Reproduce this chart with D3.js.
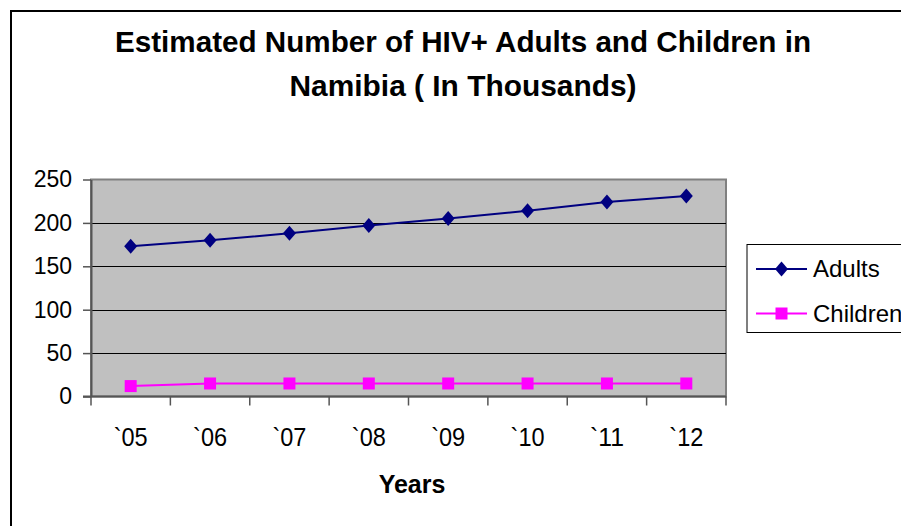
<!DOCTYPE html>
<html>
<head>
<meta charset="utf-8">
<script src="https://cdn.jsdelivr.net/npm/d3@7"></script>
<style>
  html, body { margin: 0; padding: 0; background: #fff; }
  svg { display: block; font-family: "Liberation Sans", Arial, Helvetica, sans-serif; }
</style>
</head>
<body>
<svg id="chart" width="901" height="526"></svg>
<script>
// Estimated HIV+ population in Namibia, thousands
const years = ["`05", "`06", "`07", "`08", "`09", "`10", "`11", "`12"];
const adults = [173, 180, 188, 197, 205, 214, 224, 231];
const children = [12, 15, 15, 15, 15, 15, 15, 15];
const yTicks = [0, 50, 100, 150, 200, 250];
const titleLines = ["Estimated Number of HIV+ Adults and Children in", "Namibia ( In Thousands)"];
const seriesNames = ["Adults", "Children"];

const svg = d3.select("#chart");
const W = 901, H = 526;

svg.append("rect").attr("width", W).attr("height", H).attr("fill", "#fff");

// outer chart frame (runs off the right and bottom edges)
svg.append("rect")
  .attr("x", 11).attr("y", 11).attr("width", 910).attr("height", 540)
  .attr("fill", "none").attr("stroke", "#000").attr("stroke-width", 2);

// title
const titleWidths = [696, 347];
const titleY = [51.5, 95.5];
titleLines.forEach((t, i) => {
  svg.append("text")
    .attr("x", 463).attr("y", titleY[i])
    .attr("text-anchor", "middle")
    .attr("font-size", 29).attr("font-weight", "bold")
    .attr("textLength", titleWidths[i]).attr("lengthAdjust", "spacingAndGlyphs")
    .text(t);
});

// plot area
const plot = { left: 91, right: 726, top: 179.5, bottom: 396.5 };

const x = d3.scaleBand().domain(years).range([plot.left, plot.right]).padding(0);
const y = d3.scaleLinear().domain([0, 250]).range([plot.bottom, plot.top]);

svg.append("rect")
  .attr("x", plot.left).attr("y", plot.top)
  .attr("width", plot.right - plot.left).attr("height", plot.bottom - plot.top)
  .attr("fill", "#C0C0C0").attr("stroke", "#808080").attr("stroke-width", 2);

// horizontal gridlines
svg.append("g")
  .selectAll("line")
  .data(yTicks.filter(v => v > 0 && v < 250))
  .join("line")
  .attr("x1", plot.left).attr("x2", plot.right)
  .attr("y1", d => Math.round(y(d)) + 0.5).attr("y2", d => Math.round(y(d)) + 0.5)
  .attr("stroke", "#000").attr("stroke-width", 1);

// y axis
const yAxis = svg.append("g")
  .attr("transform", `translate(${plot.left},0)`)
  .call(d3.axisLeft(y).tickValues(yTicks).tickSize(8).tickPadding(11).tickSizeOuter(0));
yAxis.select(".domain").attr("stroke", "#555").attr("stroke-width", 2);
yAxis.selectAll(".tick line").attr("stroke", "#555").attr("stroke-width", 1.5);
yAxis.selectAll(".tick text")
  .attr("font-size", 23).attr("fill", "#000")
  .attr("font-family", "'Liberation Sans', Arial, sans-serif");

// x axis: ticks on category boundaries, labels centred in each category
const xAxis = svg.append("g")
  .attr("transform", `translate(0,${plot.bottom})`);
xAxis.append("line")
  .attr("x1", plot.left - 8).attr("x2", plot.right)
  .attr("stroke", "#555").attr("stroke-width", 2);
const bounds = years.map(d => x(d)).concat([x(years[years.length - 1]) + x.bandwidth()]);
xAxis.selectAll("line.tk")
  .data(bounds)
  .join("line").attr("class", "tk")
  .attr("x1", d => d).attr("x2", d => d)
  .attr("y1", 0).attr("y2", 9)
  .attr("stroke", "#555").attr("stroke-width", 1.5);
xAxis.selectAll("text")
  .data(years)
  .join("text")
  .attr("x", d => x(d) + x.bandwidth() / 2)
  .attr("y", 49.5)
  .attr("text-anchor", "middle")
  .attr("font-size", 26)
  .attr("textLength", 34).attr("lengthAdjust", "spacingAndGlyphs")
  .text(d => d);

svg.append("text")
  .attr("x", 412).attr("y", 492.5)
  .attr("text-anchor", "middle")
  .attr("font-size", 25).attr("font-weight", "bold")
  .text("Years");

// series
const cx = d => x(d) + x.bandwidth() / 2;
const line = d3.line().x(d => cx(d[0])).y(d => y(d[1]));
const diamond = (px, py) => `M${px},${py - 7.5}L${px + 6.5},${py}L${px},${py + 7.5}L${px - 6.5},${py}Z`;

const series = [
  { name: seriesNames[0], values: adults, color: "#000080", shape: "diamond" },
  { name: seriesNames[1], values: children, color: "#FF00FF", shape: "square" }
];

function marker(g, shape, px, py, color) {
  if (shape === "diamond") {
    g.append("path").attr("d", diamond(px, py)).attr("fill", color);
  } else {
    g.append("rect").attr("x", px - 6).attr("y", py - 6).attr("width", 12).attr("height", 12).attr("fill", color);
  }
}

series.forEach(s => {
  const pts = years.map((yr, i) => [yr, s.values[i]]);
  const g = svg.append("g");
  g.append("path").attr("d", line(pts))
    .attr("fill", "none").attr("stroke", s.color).attr("stroke-width", 2);
  pts.forEach(p => marker(g, s.shape, cx(p[0]), y(p[1]), s.color));
});

// legend
const lg = svg.append("g");
lg.append("rect")
  .attr("x", 747).attr("y", 244.5).attr("width", 170).attr("height", 88)
  .attr("fill", "#fff").attr("stroke", "#000").attr("stroke-width", 1);
const legendY = [269, 313.5];
series.forEach((s, i) => {
  lg.append("line")
    .attr("x1", 756).attr("x2", 807).attr("y1", legendY[i]).attr("y2", legendY[i])
    .attr("stroke", s.color).attr("stroke-width", 2);
  marker(lg, s.shape, 781.5, legendY[i], s.color);
  lg.append("text")
    .attr("x", 813).attr("y", legendY[i]).attr("dy", "0.35em")
    .attr("font-size", 24)
    .text(s.name);
});
</script>
</body>
</html>
